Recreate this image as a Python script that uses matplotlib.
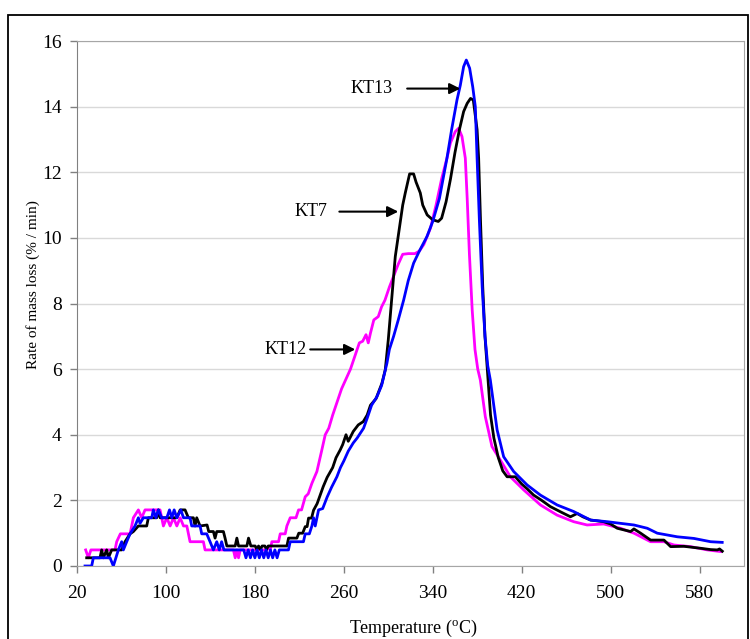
import numpy as np
import matplotlib
matplotlib.use("Agg")
import matplotlib.pyplot as plt
from matplotlib.patches import Rectangle

plt.rcParams['font.family'] = ['Liberation Serif', 'DejaVu Serif']
plt.rcParams['mathtext.fontset'] = 'custom'
plt.rcParams['mathtext.rm'] = 'Liberation Serif'

# KT7 (black)
kt7_t = [28.7, 40.7, 42.2, 43.7, 46.7, 48.2, 51.2, 60.2, 63.2, 67.7, 70.7, 75.2, 82.7, 84.2,
         91.7, 93.2, 94.7, 109.8, 112.8, 117.2, 120.2, 124.7, 126.2, 127.7, 130.7, 137,
         138.5, 142.7, 144.2, 145.7, 151.7, 153.2, 154.8, 162.3, 163.8, 165.3, 172.8, 174.3,
         176.4, 180.3, 181.8, 183.3, 185, 186.5, 189, 190.5, 192, 198, 208.8, 210.3, 217.8,
         219.5, 223, 225.3, 227, 228.3, 231, 232.8, 236, 241.5, 245, 250, 253, 256.8, 259,
         262, 264, 268.5, 273, 277.5, 281, 284, 289, 294.3, 297.3, 300, 303.3, 306.3, 310.8,
         313, 315.3, 319.2, 322.8, 325, 328.8, 331, 335, 340, 345, 348, 352, 356, 360, 364,
         367.8, 371, 374, 376.5, 379.9, 381.3, 383, 385, 387, 389.5, 392, 395, 399, 403,
         406.9, 414.3, 420, 425, 430.8, 438, 445.8, 455, 463.9, 469.9, 475, 482, 493.8, 500,
         506, 512, 518, 521, 527, 536, 548, 554, 566, 581, 590, 596, 598, 600.5]
kt7_r = [0.25, 0.25, 0.49, 0.25, 0.49, 0.25, 0.49, 0.49, 0.74, 0.98, 1.05, 1.22, 1.22, 1.47,
         1.47, 1.71, 1.47, 1.47, 1.71, 1.71, 1.47, 1.47, 1.22, 1.47, 1.22, 1.25,
         1.05, 1.05, 0.85, 1.05, 1.05, 0.85, 0.61, 0.61, 0.85, 0.61, 0.61, 0.85,
         0.61, 0.61, 0.5, 0.61, 0.5, 0.61, 0.61, 0.5, 0.61, 0.61, 0.61, 0.85, 0.85,
         1.0, 1.0, 1.2, 1.2, 1.46, 1.46, 1.7, 1.9, 2.42, 2.7, 3.0, 3.3, 3.54, 3.7,
         4.0, 3.8, 4.1, 4.3, 4.4, 4.6, 4.9, 5.1, 5.57, 5.98, 6.89, 8.21, 9.43, 10.5,
         11.0, 11.37, 11.95, 11.95, 11.7, 11.37, 11.0, 10.7, 10.55, 10.5, 10.6, 11.1, 11.8, 12.6, 13.3,
         13.85, 14.1, 14.25, 14.2, 13.3, 12.43, 10.5, 8.5, 7.0, 5.8, 4.6, 3.9, 3.3, 2.9,
         2.72, 2.72, 2.5, 2.35, 2.16, 2.0, 1.81, 1.65, 1.5, 1.6, 1.5, 1.4, 1.35, 1.28,
         1.15, 1.1, 1.05, 1.13, 1.0, 0.79, 0.79, 0.59, 0.6, 0.54, 0.5, 0.49, 0.52, 0.45]

# KT12 (magenta)
kt12_t = [27.8, 30.2, 32.5, 54.2, 55.7, 59, 67.7, 69.2, 70.7, 75.2, 78.2, 81.2, 94.7, 96.2,
          97.7, 100.8, 103.8, 106.8, 109.8, 112.8, 115.8, 118.8, 121.7, 133.7, 135.2, 160.7,
          162.3, 163.8, 165.3, 166.8, 190.8, 192.3, 193.8, 195.3, 201.3, 202.8, 207.3, 208.8,
          211.8, 217, 219.3, 222, 225.3, 228, 231.3, 235.8, 240, 243.3, 246.5, 250, 255, 258,
          262, 266, 270, 274, 277, 280, 282, 284, 287, 291, 294, 297, 301, 305, 309, 313, 318,
          324, 328, 332, 338, 343, 348, 352.8, 356, 360.3, 363.3, 366.3, 369.3, 371, 373,
          375.5, 378, 380.5, 382.8, 387.3, 393.3, 400.8, 409.8, 421.8, 436.9, 451.9, 466.8,
          478.9, 493.8, 508.9, 521, 536, 548, 557, 572, 587, 599]
kt12_r = [0.49, 0.25, 0.49, 0.49, 0.74, 0.98, 0.98, 1.22, 1.47, 1.71, 1.47, 1.71, 1.71, 1.47,
          1.22, 1.47, 1.22, 1.47, 1.22, 1.47, 1.22, 1.22, 0.74, 0.74, 0.49, 0.49,
          0.25, 0.49, 0.25, 0.49, 0.49, 0.6, 0.49, 0.74, 0.74, 0.98, 0.98, 1.22,
          1.47, 1.47, 1.71, 1.71, 2.11, 2.2, 2.52, 2.88, 3.5, 4.0, 4.2, 4.6, 5.1, 5.4,
          5.7, 6.0, 6.4, 6.8, 6.85, 7.05, 6.8, 7.1, 7.5, 7.6, 7.9, 8.1, 8.5, 8.85, 9.2, 9.5, 9.52,
          9.52, 9.6, 9.8, 10.3, 11.0, 11.8, 12.43, 12.9, 13.24, 13.34, 13.09, 12.43, 11.2, 9.5,
          7.8, 6.6, 6.0, 5.67, 4.55, 3.64, 3.23, 2.72, 2.32, 1.86, 1.55, 1.35,
          1.25, 1.28, 1.15, 1.0, 0.74, 0.74, 0.64, 0.59, 0.49, 0.44]

# KT13 (blue)
kt13_t = [27.2, 33.2, 34.7, 49.7, 52.7, 55, 57.2, 60.2, 61.7, 64.7, 67.7, 72.2, 75.2, 76.7,
          79.7, 87.2, 88.7, 91, 93.2, 96.2, 100.8, 103.2, 105.3, 107.4, 109.8, 113.4, 115.8,
          121.7, 123.2, 130.7, 132.2, 136.7, 139.7, 142.7, 145.7, 148, 150.1, 152.2, 170, 172,
          174, 176, 178, 180, 182, 184, 186, 188, 190, 192, 194, 196, 198, 200, 202, 210.2,
          211.8, 223.7, 225.3, 229, 231.3, 232.8, 234.3, 237.3, 241, 245, 249, 253.8, 257, 260,
          264, 268.5, 272, 277.8, 281, 285, 289.8, 294, 298.8, 301, 304.8, 309, 313.8, 318,
          322.8, 328, 334.8, 340, 346, 352.8, 357, 361.8, 364.8, 367.8, 370.2, 373.2, 376,
          378.3, 379.9, 382, 384.5, 387, 389.5, 391.8, 397.9, 403.8, 412.8, 424.9, 436.9,
          451.9, 466.8, 482, 497, 508.9, 521, 533, 542, 560, 575, 590, 600.4]
kt13_r = [0, 0, 0.25, 0.25, 0, 0.25, 0.49, 0.74, 0.49, 0.74, 0.98, 1.22, 1.47, 1.3,
          1.47, 1.47, 1.71, 1.47, 1.71, 1.47, 1.47, 1.71, 1.47, 1.71, 1.47, 1.71, 1.47,
          1.47, 1.22, 1.22, 0.98, 0.98, 0.74, 0.49, 0.74, 0.49, 0.74, 0.49, 0.49, 0.25,
          0.49, 0.25, 0.49, 0.25, 0.49, 0.25, 0.49, 0.25, 0.49, 0.25, 0.49, 0.25, 0.49, 0.25, 0.49, 0.49,
          0.74, 0.74, 0.98, 0.98, 1.22, 1.47, 1.22, 1.71, 1.75, 2.1, 2.4, 2.72, 3.0, 3.2,
          3.5, 3.75, 3.9, 4.2, 4.5, 4.9, 5.16, 5.5, 6.18, 6.6, 7.0, 7.5, 8.1, 8.7,
          9.23, 9.6, 10.04, 10.5, 11.2, 12.43, 13.3, 14.2, 14.65, 15.22, 15.42, 15.17, 14.6,
          14.0, 12.43, 10.5, 8.5, 7.0, 6.1, 5.67, 4.15, 3.33, 2.88, 2.47, 2.16,
          1.86, 1.66, 1.4, 1.35, 1.3, 1.25, 1.15, 1.0, 0.89, 0.84, 0.74, 0.72]

x_ticks = [20, 100, 180, 260, 340, 420, 500, 580]
y_ticks = [0, 2, 4, 6, 8, 10, 12, 14, 16]

# label, text right end, arrow tail, arrow tip, y
labels = [("KT13", 303.6, 317, 364.8, 14.55),
          ("KT7", 245.1, 256, 309, 10.8),
          ("KT12", 226.2, 229.8, 270.3, 6.6)]

fig = plt.figure(figsize=(7.5, 6.39), dpi=100)
ax = fig.add_axes([77/750, 1-566/639, (744-77)/750, (566-41)/639])

ax.plot(kt12_t, kt12_r, color='#ff00ff', lw=2)
ax.plot(kt7_t, kt7_r, color='black', lw=2)
ax.plot(kt13_t, kt13_r, color='#0000ff', lw=2)

ax.set_xlim(20, 620)
ax.set_ylim(0, 16)
ax.set_xticks(x_ticks)
ax.set_yticks(y_ticks)
ax.tick_params(labelsize=14, color='#808080', length=5, width=1)
ax.tick_params(axis='y', pad=6)
ax.tick_params(axis='x', pad=9)
ax.yaxis.grid(True, color='#d9d9d9', lw=1)
ax.set_axisbelow(True)
for s in ['top', 'right', 'bottom']:
    ax.spines[s].set_color('#a6a6a6')
ax.spines['left'].set_color('#808080')

for name, tx, t0, t1, y in labels:
    ax.text(tx, y, name, ha='right', va='center', fontsize=13)
    ax.annotate('', xy=(t1, y), xytext=(t0, y),
                arrowprops=dict(arrowstyle='-|>', color='black', lw=1.5,
                                mutation_scale=16, shrinkA=0, shrinkB=0))

fig.text(413/750, 1-628/639, r'Temperature ($^{\mathrm{o}}$C)', ha='center', va='center', fontsize=13)
fig.text(33/750, 1-285/639, 'Rate of mass loss (% / min)', rotation=90,
         ha='center', va='center', fontsize=11)

fig.patches.append(Rectangle((8/750, -0.05), 740/750, 1.05 - 15/639, transform=fig.transFigure,
                             fill=False, edgecolor='black', lw=1.3))

fig.savefig('out.png', dpi=100)
